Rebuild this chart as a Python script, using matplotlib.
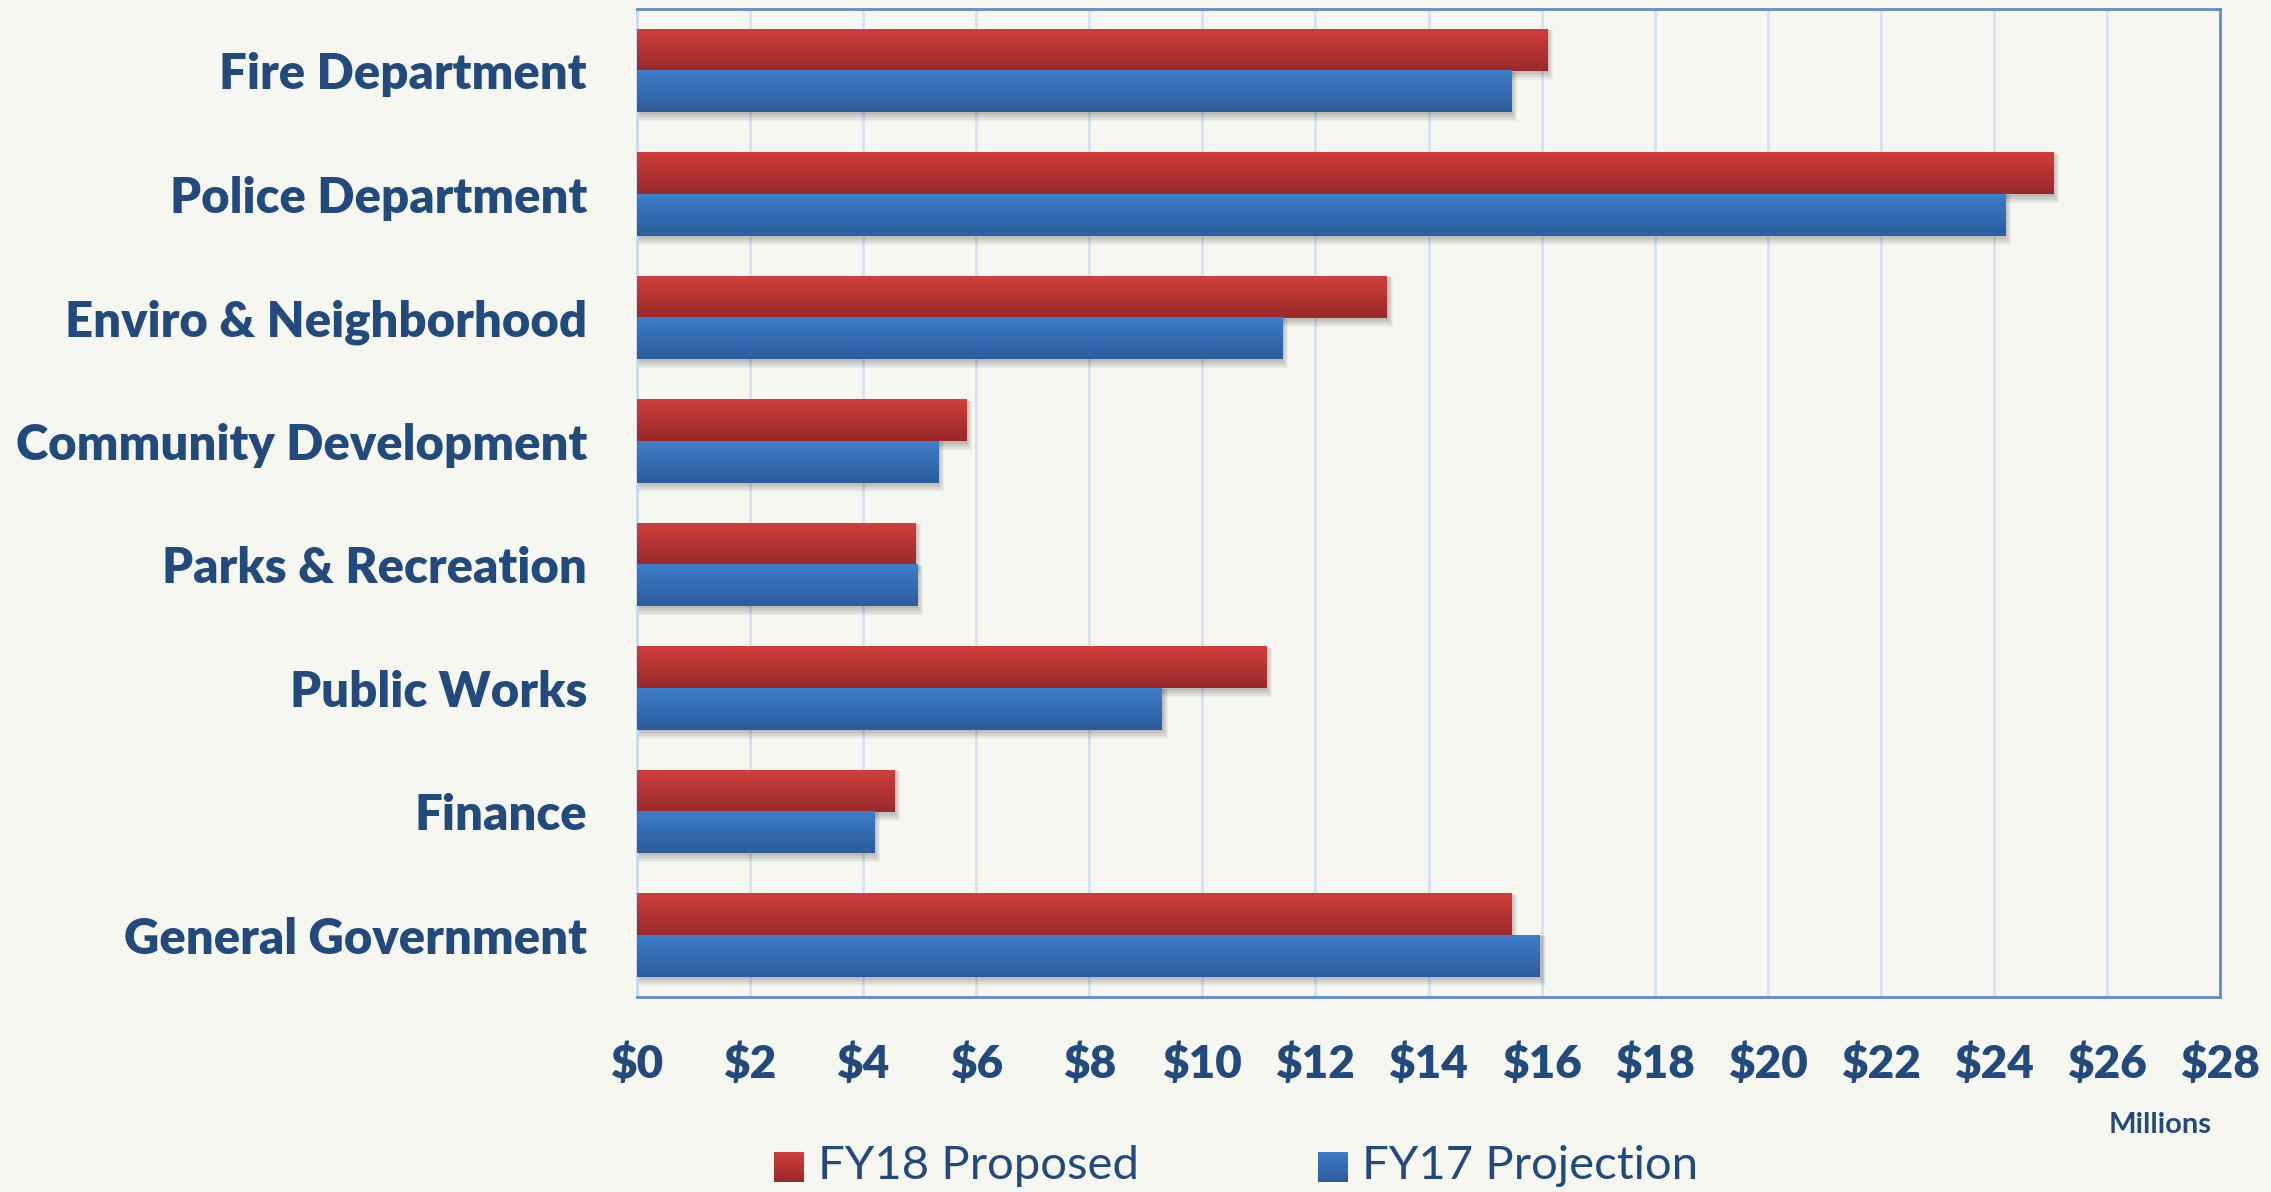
import numpy as np
import matplotlib
matplotlib.use("Agg")
import matplotlib.pyplot as plt
from matplotlib.patches import Rectangle
from matplotlib.colors import LinearSegmentedColormap

# data (millions)
departments = ["Fire Department", "Police Department", "Enviro & Neighborhood",
               "Community Development", "Parks & Recreation", "Public Works",
               "Finance", "General Government"]
fy18_proposed = [16.1, 25.05, 13.26, 5.82, 4.92, 11.13, 4.55, 15.46]
fy17_projection = [15.46, 24.2, 11.41, 5.33, 4.96, 9.28, 4.2, 15.97]
xticks = list(range(0, 29, 2))
xtick_labels = [f"${v}" for v in xticks]

bg = "#F6F7F1"
navy = "#234A7D"
red_top, red_bot = "#D03F3C", "#99292A"
blue_top, blue_bot = "#3D7DCA", "#2D5D9B"

plt.rcParams['font.family'] = ['Lato', 'DejaVu Sans']

fig = plt.figure(figsize=(22.71, 11.92), dpi=100, facecolor=bg)
ax = fig.add_axes([637/2271, 195/1192, 1583/2271, 988/1192], facecolor=bg)

y = np.arange(len(departments))
h = 0.336
px_x = 28 / 1583
px_y = 8 / 988


def draw_series(vals, offset, ctop, cbot):
    cmap = LinearSegmentedColormap.from_list("g", [ctop, cbot])
    grad = np.linspace(0, 1, 64).reshape(-1, 1)
    bars = ax.barh(y + offset, vals, height=h, color=cbot, zorder=3)
    for b in bars:
        x0, y0, w, hh = b.get_x(), b.get_y(), b.get_width(), b.get_height()
        ax.imshow(grad, cmap=cmap, aspect='auto', origin='upper',
                  extent=(x0, x0 + w, y0 + hh, y0), zorder=4, interpolation='bilinear')
        # soft shadow
        for k in range(1, 7):
            ax.add_patch(Rectangle((x0, y0 + k * px_y * 0.2), w + k * px_x * 1.0, hh + k * px_y * 1.3,
                                   facecolor='black', edgecolor='none', alpha=0.045, zorder=2))
    return bars


draw_series(fy18_proposed, -h / 2, red_top, red_bot)
draw_series(fy17_projection, h / 2, blue_top, blue_bot)

ax.set_xlim(0, 28)
ax.set_ylim(len(departments) - 0.5, -0.5)
ax.set_xticks(xticks)
ax.set_xticklabels(xtick_labels)
ax.set_yticks(y)
ax.set_yticklabels(departments)
ax.grid(axis='x', color='#D5E2F2', linewidth=2, zorder=1)
ax.set_axisbelow(True)

for lab in ax.get_yticklabels():
    lab.set_fontsize(35.3)
    lab.set_fontweight('heavy')
    lab.set_color(navy)
for lab in ax.get_xticklabels():
    lab.set_fontsize(33)
    lab.set_fontweight('heavy')
    lab.set_color(navy)
ax.tick_params(axis='y', length=0, pad=36)
ax.tick_params(axis='x', length=0, pad=33)

ax.spines['left'].set_color('#C9D9EF')
ax.spines['left'].set_linewidth(2)
for s in ['top', 'right', 'bottom']:
    ax.spines[s].set_color('#5C8CD0')
    ax.spines[s].set_linewidth(2)

fig.text(2160/2271, 1 - 1125/1192, "Millions", fontsize=21, fontweight='bold',
         color=navy, ha='center', va='center')

# legend
leg_items = [("FY18 Proposed", red_top, red_bot, 774), ("FY17 Projection", blue_top, blue_bot, 1318)]
for label, ct, cb, xpix in leg_items:
    lax = fig.add_axes([xpix/2271, 1 - 1182/1192, 30/2271, 30/1192])
    lax.imshow(np.linspace(0, 1, 32).reshape(-1, 1),
               cmap=LinearSegmentedColormap.from_list("l", [ct, cb]), aspect='auto')
    lax.axis('off')
    fig.text((xpix + 44)/2271, 1 - 1166/1192, label, fontsize=34, color=navy,
             ha='left', va='center')

fig.savefig("out.png", dpi=100, facecolor=bg)
